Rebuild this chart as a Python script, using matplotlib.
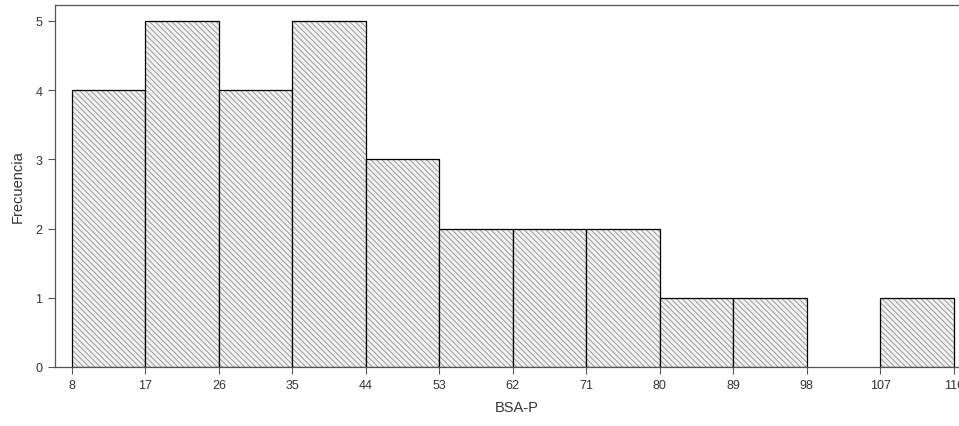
import matplotlib.pyplot as plt
import matplotlib as mpl

mpl.rcParams['hatch.linewidth'] = 0.7
plt.rcParams['font.family'] = ['Liberation Sans', 'DejaVu Sans']

# bin edges and counts of the histogram
edges = [8, 17, 26, 35, 44, 53, 62, 71, 80, 89, 98, 107, 116]
counts = [4, 5, 4, 5, 3, 2, 2, 2, 1, 1, 0, 1]
yticks = [0, 1, 2, 3, 4, 5]

fig = plt.figure(figsize=(9.59, 4.27), dpi=100)
ax = fig.add_axes([55/959, 1 - 368/427, 1.02 - 55/959, (368 - 6)/427])

lefts = edges[:-1]
widths = [edges[i+1] - edges[i] for i in range(len(lefts))]
for l, w, c in zip(lefts, widths, counts):
    if c > 0:
        # hatch fill in gray, then black outline on top
        ax.bar(l, c, width=w, align='edge', color='#f2f2f2', edgecolor='#9a9a9a',
               linewidth=0, hatch='\\\\\\\\\\\\')
        ax.bar(l, c, width=w, align='edge', fill=False, edgecolor='black',
               linewidth=0.9)

ax.set_xlim(5.92, 119.0)
ax.set_ylim(0, (368 - 6) / 69.2)
ax.set_xticks(edges)
ax.set_xticklabels([str(e) for e in edges])
ax.set_yticks(yticks)

for s in ['left', 'bottom', 'top']:
    ax.spines[s].set_color('#555555')
    ax.spines[s].set_linewidth(0.9)
ax.spines['right'].set_visible(False)

ax.tick_params(axis='both', direction='out', length=5, width=0.8, color='#555555',
               labelsize=9, labelcolor='#333333', pad=4)

ax.set_xlabel('BSA-P', fontsize=10.5, color='#333333', labelpad=6)
ax.set_ylabel('Frecuencia', fontsize=10.5, color='#333333', labelpad=8)

fig.savefig('out.png', dpi=100)
